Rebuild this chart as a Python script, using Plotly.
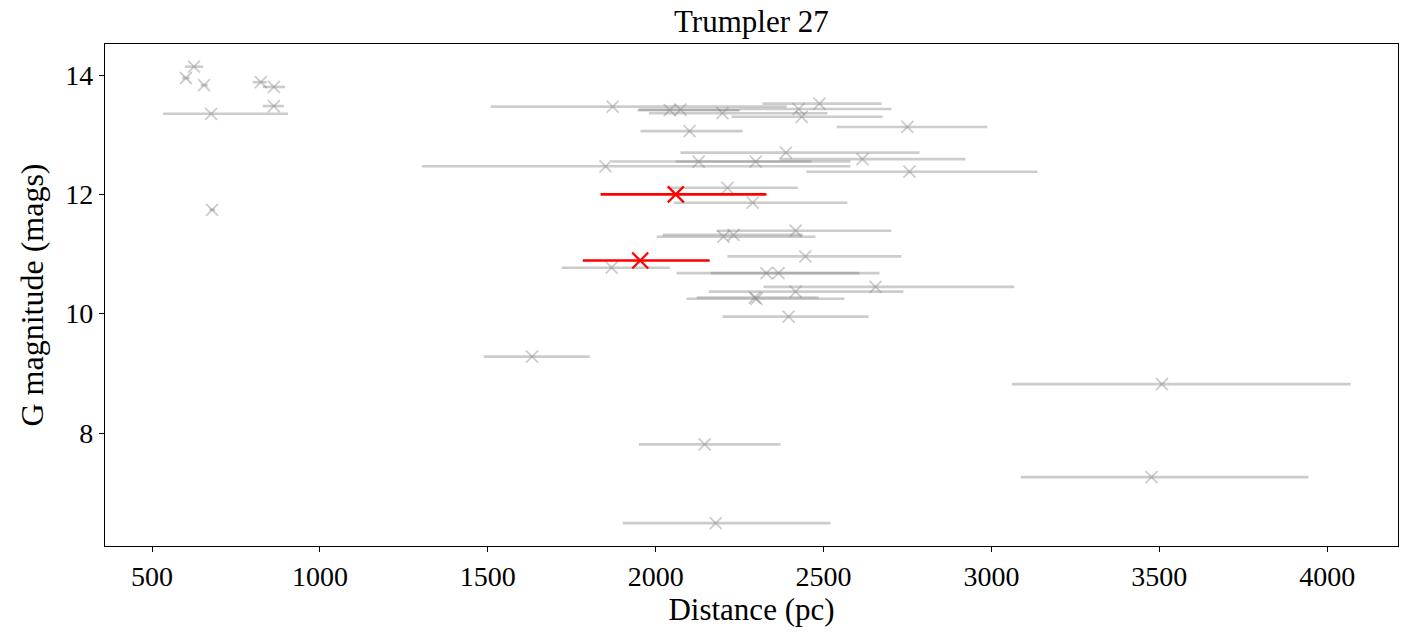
import plotly.graph_objects as go

# Gray (other members)
dist = [601, 625, 655, 676, 824, 863, 863, 679,
        1872, 2042, 2074, 2199, 2426, 2435, 2488, 2101, 2750,
        2388, 1851, 2128, 2298, 2616, 2756, 2214, 2289,
        2417, 2202, 2232, 1869, 2446, 2330, 2366,
        2655, 2417, 2300, 2295, 2396,
        1632, 3508, 2146, 3477, 2179]
mag = [13.95, 14.14, 13.83, 13.35, 13.88, 13.80, 13.48, 11.74,
       13.47, 13.41, 13.42, 13.36, 13.43, 13.30, 13.52, 13.06, 13.13,
       12.70, 12.47, 12.55, 12.55, 12.59, 12.38, 12.11, 11.86,
       11.39, 11.29, 11.32, 10.77, 10.96, 10.68, 10.68,
       10.45, 10.37, 10.25, 10.27, 9.95,
       9.28, 8.82, 7.81, 7.26, 6.49]
dist_lo = [590, 598, 645, 533, 800, 830, 830, 671,
           1509, 1946, 1950, 1980, 2250, 2226, 2318, 1955, 2539,
           2074, 1304, 1869, 2060, 2369, 2449, 2033, 2054,
           2182, 2003, 2021, 1720, 2214, 2062, 2164,
           2321, 2158, 2092, 2122, 2199,
           1488, 3061, 1950, 3088, 1902]
dist_hi = [612, 652, 666, 905, 842, 896, 893, 688,
           2390, 2250, 2250, 2512, 2702, 2676, 2673, 2259, 2988,
           2786, 2580, 2464, 2580, 2923, 3137, 2423, 2571,
           2702, 2476, 2438, 2042, 2732, 2667, 2607,
           3068, 2738, 2562, 2485, 2634,
           1804, 4070, 2372, 3944, 2521]

# Red (highlighted)
red_dist = [2060, 1954]
red_mag = [12.00, 10.89]
red_lo = [1836, 1783]
red_hi = [2330, 2161]

fig = go.Figure()
fig.add_trace(go.Scatter(
    x=dist, y=mag, mode="markers",
    marker=dict(symbol="x-thin", size=12,
                line=dict(width=1.8, color="rgba(128,128,128,0.4)")),
    error_x=dict(type="data", symmetric=False,
                 array=[h - d for h, d in zip(dist_hi, dist)],
                 arrayminus=[d - l for d, l in zip(dist, dist_lo)],
                 color="rgba(128,128,128,0.4)", thickness=2.6, width=0),
    showlegend=False, hoverinfo="x+y"))
fig.add_trace(go.Scatter(
    x=red_dist, y=red_mag, mode="markers",
    marker=dict(symbol="x-thin", size=16,
                line=dict(width=2.2, color="red")),
    error_x=dict(type="data", symmetric=False,
                 array=[h - d for h, d in zip(red_hi, red_dist)],
                 arrayminus=[d - l for d, l in zip(red_dist, red_lo)],
                 color="red", thickness=2.6, width=0),
    showlegend=False, hoverinfo="x+y"))

font = "Liberation Serif, Times New Roman, serif"
fig.update_layout(
    width=1401, height=632,
    margin=dict(l=105, r=3, t=44, b=86),
    paper_bgcolor="white", plot_bgcolor="white",
    font=dict(family=font, size=28, color="black"),
    title=dict(text="Trumpler 27", x=0.5363, xanchor="center",
               y=0.966, yanchor="middle", yref="container",
               font=dict(family=font, size=31, color="black")),
)
fig.update_xaxes(
    range=[360, 4211], tickvals=[500, 1000, 1500, 2000, 2500, 3000, 3500, 4000],
    ticks="outside", ticklen=5, tickwidth=1.2, tickcolor="black",
    showline=True, linecolor="black", linewidth=1.2, mirror=True,
    showgrid=False, zeroline=False, automargin=False,
    tickfont=dict(family=font, size=28),
    title=dict(text="Distance (pc)", font=dict(family=font, size=31), standoff=6),
)
fig.update_yaxes(
    range=[6.106, 14.52], tickvals=[8, 10, 12, 14],
    ticks="outside", ticklen=5, tickwidth=1.2, tickcolor="black",
    showline=True, linecolor="black", linewidth=1.2, mirror=True,
    showgrid=False, zeroline=False, automargin=False,
    tickfont=dict(family=font, size=28),
    title=dict(text="G magnitude (mags)", font=dict(family=font, size=32), standoff=12),
)
fig.write_html("out.html")
